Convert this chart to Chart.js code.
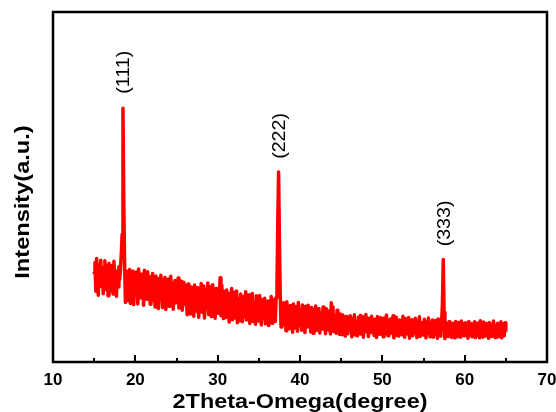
<!DOCTYPE html>
<html><head><meta charset="utf-8">
<script src="https://cdn.jsdelivr.net/npm/chart.js@4/dist/chart.umd.min.js"></script>
<style>html,body{margin:0;padding:0;background:#fff}</style>
</head><body>
<canvas id="c" width="556" height="412"></canvas>
<script>
// ---- data (2Theta in degrees, intensity in arbitrary units) ----
const xStart = 15.0;   // first scan angle
const xStep = 0.1;     // scan step
const intensity15to25 = [
 25.5, 28.4, 20.2, 29.6, 23.0, 19.1, 27.8, 24.3, 29.1, 21.6,
 26.9, 19.5, 24.8, 28.9, 20.7, 27.4, 23.1, 18.9, 28.2, 24.0,
 20.3, 27.6, 25.2, 19.4, 28.8, 22.9, 26.1, 18.8, 25.7, 21.4,
 27.2, 23.6, 26.8, 31.0, 36.5, 72.5, 44.8, 27.4, 17.0, 24.6,
 25.9, 17.6, 22.7, 26.4, 16.7, 23.8, 20.2, 26.0, 16.4, 24.1,
 19.5, 25.7, 21.9, 16.6, 26.6, 22.4, 18.3, 25.1, 20.6, 23.9,
 16.2, 26.2, 21.0, 24.7, 17.9, 25.8, 19.4, 22.8, 16.5, 24.4,
 20.8, 25.3, 17.5, 23.2, 15.7, 24.6, 19.0, 21.7, 15.3, 23.9,
 18.7, 24.8, 20.3, 15.6, 23.5, 19.2, 24.2, 15.0, 21.8, 17.6,
 23.7, 15.9, 21.1, 24.5, 17.8, 22.4, 15.1, 20.6, 23.3, 16.9
];
const intensity25to35 = [
 22.6, 18.4, 24.0, 15.4, 21.3, 19.5, 23.1, 14.8, 20.7, 22.8,
 16.4, 21.9, 18.0, 13.5, 22.3, 17.2, 20.5, 13.7, 21.4, 16.6,
 19.8, 13.1, 22.0, 17.4, 14.6, 21.2, 18.6, 12.8, 20.9, 16.1,
 22.4, 14.2, 19.1, 21.7, 12.6, 18.3, 20.8, 15.4, 22.6, 13.6,
 18.9, 21.5, 13.0, 17.7, 22.1, 15.1, 19.6, 12.5, 21.0, 16.2,
 20.4, 13.9, 18.8, 24.1, 13.2, 21.9, 16.7, 12.4, 20.2, 17.5,
 12.7, 20.6, 15.9, 18.4, 11.4, 19.7, 14.2, 21.0, 12.1, 17.3,
 19.9, 12.6, 16.6, 20.3, 11.2, 18.1, 14.8, 11.8, 19.4, 15.3,
 11.5, 18.7, 16.0, 12.9, 20.1, 12.0, 17.6, 14.5, 19.2, 11.0,
 16.8, 13.3, 19.6, 11.6, 17.1, 15.2, 10.8, 18.9, 13.9, 16.4
];
const intensity35to45 = [
 11.7, 19.0, 14.6, 10.6, 17.8, 15.7, 12.4, 18.2, 10.9, 16.1,
 14.0, 17.4, 10.4, 16.3, 12.2, 18.7, 11.1, 15.1, 13.2, 17.9,
 11.6, 18.4, 21.6, 39.0, 54.3, 35.0, 19.0, 10.0, 16.8, 12.0,
 16.9, 10.7, 14.7, 8.9, 17.2, 12.2, 15.4, 9.5, 16.1, 11.4,
 14.2, 8.5, 16.6, 12.3, 9.7, 15.8, 13.4, 8.8, 17.0, 10.6,
 15.1, 12.7, 9.1, 16.3, 10.4, 14.4, 8.4, 15.9, 12.1, 10.0,
 16.2, 11.0, 13.8, 8.6, 15.6, 12.0, 8.2, 14.9, 10.5, 16.0,
 9.0, 13.5, 11.2, 15.3, 8.3, 14.1, 12.4, 9.4, 15.7, 10.2,
 13.0, 8.1, 15.2, 11.7, 9.2, 14.6, 12.2, 8.0, 16.9, 9.9,
 15.8, 8.7, 13.3, 11.5, 8.2, 14.8, 9.6, 12.9, 7.9, 13.7
];
const intensity45to55 = [
 10.6, 7.8, 13.4, 9.3, 12.1, 7.4, 13.0, 10.4, 8.1, 12.6,
 9.3, 13.2, 11.0, 7.2, 12.4, 9.9, 13.5, 7.7, 11.6, 10.2,
 7.5, 12.8, 10.5, 13.3, 8.0, 11.9, 9.2, 7.1, 12.9, 10.9,
 13.6, 8.6, 11.3, 7.3, 12.5, 10.1, 8.4, 13.1, 9.6, 11.8,
 7.6, 12.2, 10.7, 7.0, 13.0, 9.4, 11.5, 7.9, 12.7, 10.0,
 11.2, 7.2, 12.6, 9.8, 8.1, 13.4, 10.3, 7.5, 11.9, 9.1,
 12.3, 8.3, 10.6, 13.2, 6.9, 11.4, 9.5, 12.8, 7.6, 10.8,
 7.4, 12.0, 9.3, 11.7, 7.8, 13.1, 10.0, 7.1, 12.4, 9.7,
 11.1, 8.0, 12.7, 6.8, 10.9, 9.0, 12.1, 7.5, 11.6, 8.4,
 12.5, 9.6, 7.0, 11.8, 8.5, 12.9, 7.3, 10.5, 9.2, 11.3
];
const intensity55to65 = [
 7.7, 12.2, 9.9, 6.9, 11.5, 8.2, 12.6, 10.2, 7.2, 11.0,
 9.4, 12.0, 7.1, 10.8, 7.9, 11.9, 9.1, 6.8, 12.3, 8.3,
 10.6, 7.4, 11.4, 16.5, 29.3, 14.2, 6.7, 11.2, 8.0, 10.9,
 7.3, 11.5, 9.0, 10.7, 7.0, 11.1, 8.1, 10.0, 6.9, 11.6,
 9.3, 7.2, 11.3, 7.8, 10.5, 7.1, 11.7, 9.6, 7.6, 10.9,
 7.5, 11.2, 8.4, 10.3, 6.8, 11.6, 9.4, 7.7, 11.0, 7.2,
 10.6, 7.9, 11.5, 7.0, 9.8, 11.1, 7.6, 10.4, 6.9, 11.8,
 8.2, 10.1, 7.1, 11.4, 9.2, 7.4, 11.0, 8.0, 10.7, 6.8,
 11.3, 9.0, 7.3, 10.8, 7.7, 11.7, 9.5, 7.0, 10.2, 8.2,
 11.1, 7.2, 10.0, 7.9, 11.5, 6.9, 9.7, 10.9, 7.5, 11.2,
 9.0
];
const peakAngles = [18.5, 37.4, 57.4];
const peakLabels = ['(111)', '(222)', '(333)'];
const xTickValues = [10, 20, 30, 40, 50, 60, 70];
const xMinorTickValues = [15, 25, 35, 45, 55, 65];
const xTitle = '2Theta-Omega(degree)';
const yTitle = 'Intensity(a.u.)';

// ---- build ----
const intensity = [].concat(intensity15to25, intensity25to35, intensity35to45, intensity45to55, intensity55to65);
const points = intensity.map((v, i) => ({ x: +(xStart + i * xStep).toFixed(1), y: v }));
const FAM = '"Liberation Sans", Arial, sans-serif';

function drawText(ctx, text, x, y, rot, font, sx, align, baseline) {
  ctx.save();
  ctx.translate(x, y);
  if (rot) ctx.rotate(rot);
  ctx.scale(sx, 1);
  ctx.font = font;
  ctx.fillStyle = '#000';
  ctx.textAlign = align;
  ctx.textBaseline = baseline;
  ctx.fillText(text, 0, 0);
  ctx.restore();
}

const decor = {
  id: 'decor',
  afterDatasetsDraw(chart) {
    const { ctx, chartArea: a, scales: { x, y } } = chart;
    ctx.save();
    ctx.strokeStyle = '#000';
    ctx.lineWidth = 2;
    xTickValues.forEach(v => {
      const px = Math.round(x.getPixelForValue(v));
      ctx.beginPath(); ctx.moveTo(px, a.bottom); ctx.lineTo(px, a.bottom - 7); ctx.stroke();
    });
    xMinorTickValues.forEach(v => {
      const px = Math.round(x.getPixelForValue(v));
      ctx.beginPath(); ctx.moveTo(px, a.bottom); ctx.lineTo(px, a.bottom - 4); ctx.stroke();
    });
    ctx.lineWidth = 2.5;
    ctx.strokeRect(a.left, a.top, a.right - a.left, a.bottom - a.top);
    peakAngles.forEach((ang, k) => {
      const idx = Math.round((ang - xStart) / xStep);
      const top = y.getPixelForValue(intensity[idx]);
      const px = x.getPixelForValue(ang) + 1.5;
      drawText(ctx, peakLabels[k], px, top - 36, -Math.PI / 2, '17.5px ' + FAM, 1.12, 'center', 'middle');
    });
    drawText(ctx, xTitle, (a.left + a.right) / 2, 408, 0, 'bold 19.5px ' + FAM, 1.2, 'center', 'alphabetic');
    drawText(ctx, yTitle, 29, 202, -Math.PI / 2, 'bold 20px ' + FAM, 1.18, 'center', 'alphabetic');
    ctx.restore();
  }
};

new Chart(document.getElementById('c'), {
  type: 'line',
  data: {
    datasets: [{
      data: points,
      borderColor: '#ff0000',
      borderWidth: 3.5,
      borderJoinStyle: 'round',
      borderCapStyle: 'round',
      pointRadius: 0,
      tension: 0,
      fill: false
    }]
  },
  options: {
    responsive: false,
    devicePixelRatio: 1,
    animation: false,
    layout: { autoPadding: false, padding: { top: 12, right: 9, left: 0, bottom: 0 } },
    plugins: { legend: { display: false }, tooltip: { enabled: false } },
    scales: {
      x: {
        type: 'linear', min: 10, max: 70,
        afterBuildTicks: s => { s.ticks = xTickValues.map(v => ({ value: v })); },
        ticks: { font: { family: FAM, size: 17, weight: 'bold' }, color: '#000', padding: 8, maxRotation: 0, autoSkip: false },
        grid: { display: false, drawTicks: false },
        border: { display: false },
        afterFit: s => { s.height = 50; s.paddingLeft = 0; s.paddingRight = 0; }
      },
      y: {
        min: 0, max: 100,
        ticks: { display: false },
        grid: { display: false, drawTicks: false },
        border: { display: false },
        afterFit: s => { s.width = 53; }
      }
    }
  },
  plugins: [decor]
});
</script>
</body></html>
